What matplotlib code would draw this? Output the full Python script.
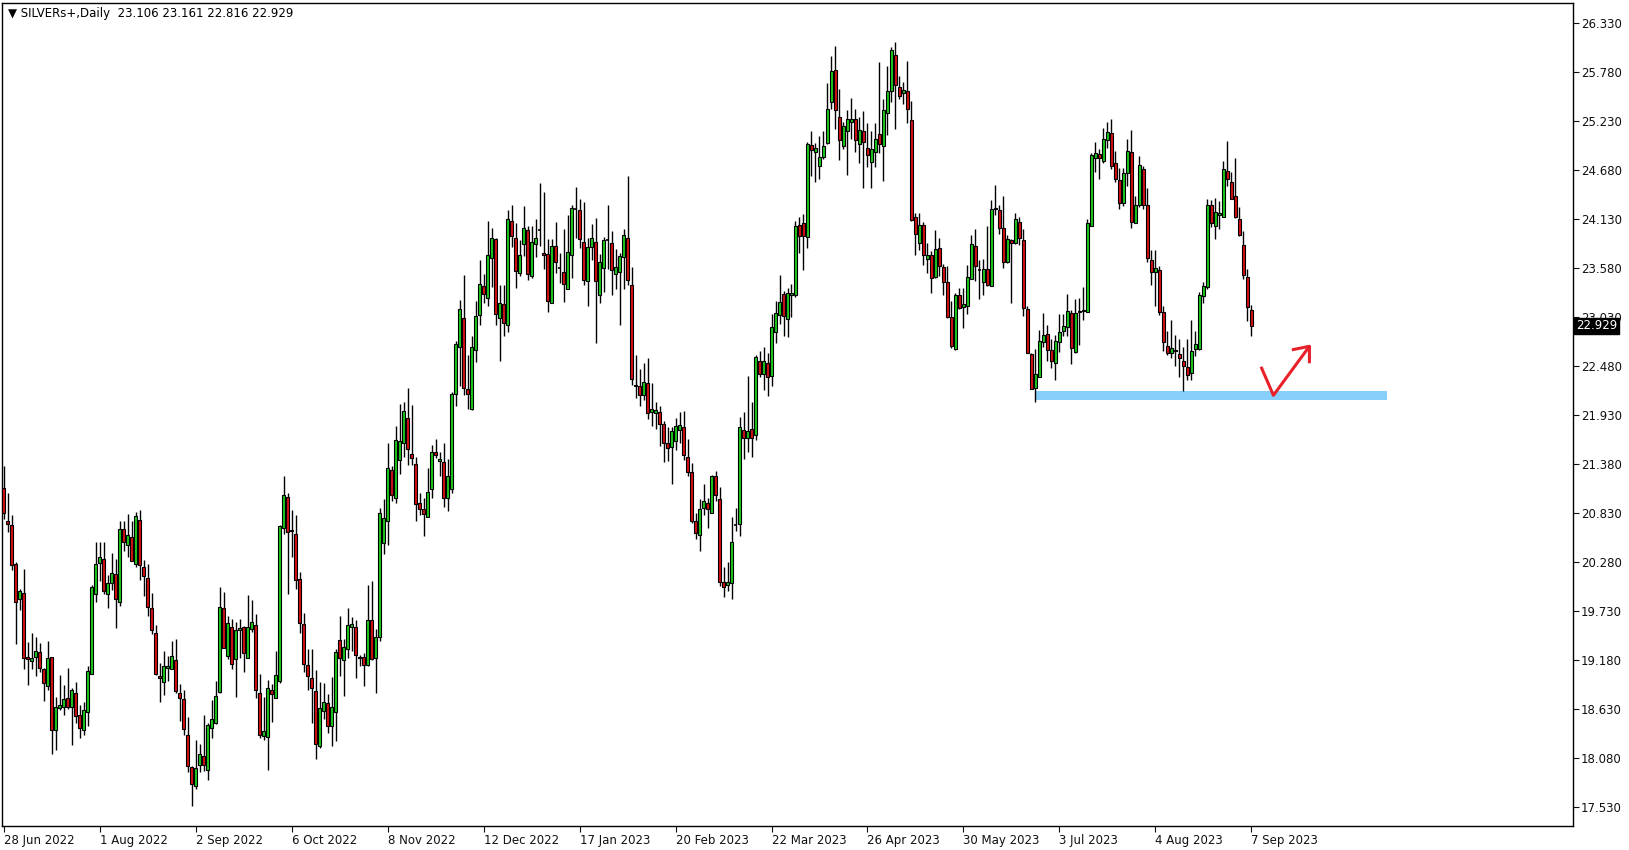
import numpy as np
import matplotlib
matplotlib.use("Agg")
import matplotlib.pyplot as plt
import matplotlib.transforms as mtransforms

# daily bars, SILVERs+
opens = [
    21.11, 20.74, 20.70, 20.26, 19.87, 19.93, 19.21, 19.17, 19.22, 19.27,
    19.08, 18.89, 19.21, 18.40, 18.64, 18.66, 18.75, 18.65, 18.81, 18.57,
    18.40, 18.60, 19.03, 19.92, 20.27, 20.31, 19.92, 20.05, 20.15, 19.83,
    20.65, 20.47, 20.56, 20.26, 20.75, 20.23, 20.10, 19.77, 19.48, 19.00,
    18.93, 19.09, 19.08, 19.18, 18.81, 18.74, 18.34, 17.98, 17.77, 18.00,
    18.10, 17.95, 18.42, 18.47, 18.82, 19.76, 19.23, 19.55, 19.19, 19.52,
    19.55, 19.20, 19.53, 19.57, 18.81, 18.33, 18.32, 18.85, 18.76, 18.95,
    20.66, 21.01, 20.64, 20.59, 20.09, 19.59, 19.13, 18.98, 18.83, 18.22,
    18.61, 18.70, 18.44, 18.60, 19.41, 19.18, 19.30, 19.55, 19.55, 19.21,
    19.21, 19.13, 19.63, 19.20, 19.44, 20.49, 20.74, 21.31, 21.00, 21.42,
    21.62, 21.90, 21.49, 21.38, 20.94, 20.88, 20.78, 21.10, 21.52, 21.41,
    21.40, 21.00, 21.10, 22.17, 22.69, 23.02, 22.22, 22.00, 22.66, 23.05,
    23.38, 23.24, 23.69, 23.90, 23.02, 23.17, 22.94, 24.11, 23.92, 23.52,
    23.85, 24.00, 23.49, 23.85, 24.00, 23.75, 23.73, 23.19, 23.83, 23.58,
    23.53, 23.34, 23.72, 24.24, 24.23, 23.87, 23.43, 23.81, 23.87, 23.28,
    23.58, 23.89, 23.86, 23.51, 23.53, 23.70, 23.92, 23.39, 22.27, 22.25,
    22.15, 22.29, 21.96, 21.95, 21.96, 21.83, 21.61, 21.57, 21.64, 21.76,
    21.80, 21.46, 21.29, 20.74, 20.58, 20.89, 20.94, 20.83, 21.25, 20.99,
    20.06, 20.02, 20.04, 20.70, 20.71, 21.76, 21.67, 21.77, 21.71, 22.53,
    22.39, 22.51, 22.37, 22.86, 23.05, 23.29, 23.01, 23.27, 23.28, 24.06,
    24.08, 23.93, 24.96, 24.88, 24.72, 24.82, 24.98, 25.44, 25.80, 25.27,
    24.95, 25.12, 25.22, 25.25, 24.97, 25.12, 24.92, 24.77, 24.88, 25.08,
    24.95, 25.32, 25.56, 25.97, 25.61, 25.54, 25.56, 25.24, 24.15, 23.86,
    24.06, 23.68, 23.72, 23.48, 23.80, 23.59, 23.42, 23.03, 22.67, 23.28,
    23.14, 23.15, 23.46, 23.83, 23.55, 23.42, 23.57, 23.38, 24.25, 24.23,
    24.03, 23.64, 23.89, 23.86, 24.09, 23.89, 23.12, 22.61, 22.23, 22.36,
    22.75, 22.84, 22.66, 22.51, 22.75, 22.87, 22.92, 23.07, 22.64, 23.08,
    23.095, 23.09, 24.05, 24.81, 24.86, 24.78, 25.01, 25.09, 24.75, 24.57,
    24.31, 24.64, 24.88, 24.08, 24.28, 24.69, 24.28, 23.67, 23.53, 23.55,
    23.09, 22.70, 22.62, 22.66, 22.61, 22.54, 22.47, 22.40, 22.67, 22.67,
    23.26, 23.36, 24.28, 24.05, 24.17, 24.15, 24.67, 24.54, 24.38, 24.13,
    23.84, 23.48, 23.106,
]
highs = [
    21.36, 21.06, 20.81, 20.28, 19.98, 20.20, 19.38, 19.48, 19.44, 19.37,
    19.09, 19.40, 19.21, 18.77, 19.01, 18.90, 19.09, 18.87, 18.94, 18.68,
    18.71, 19.12, 20.02, 20.50, 20.50, 20.50, 20.14, 20.38, 20.31, 20.74,
    20.74, 20.82, 20.74, 20.84, 20.86, 20.30, 20.26, 19.93, 19.57, 19.15,
    19.28, 19.23, 19.39, 19.42, 18.91, 18.84, 18.54, 17.99, 18.28, 18.24,
    18.57, 18.48, 18.73, 18.95, 20.00, 19.94, 19.68, 19.64, 19.61, 19.64,
    19.56, 19.91, 19.85, 19.70, 19.02, 18.77, 18.96, 18.91, 19.28, 20.70,
    21.25, 21.06, 20.86, 20.81, 20.17, 19.71, 19.30, 19.30, 19.07, 18.93,
    18.92, 18.80, 18.99, 19.31, 19.67, 19.42, 19.77, 19.66, 19.63, 19.24,
    19.26, 20.02, 20.07, 19.53, 20.89, 20.99, 21.61, 21.36, 21.81, 22.05,
    22.08, 22.23, 22.04, 21.46, 21.06, 21.00, 21.33, 21.59, 21.66, 21.51,
    21.61, 21.44, 22.19, 22.76, 23.22, 23.50, 22.60, 22.81, 23.21, 23.67,
    23.51, 24.11, 24.03, 23.92, 23.39, 23.39, 24.23, 24.29, 24.08, 23.89,
    24.27, 24.05, 24.05, 24.13, 24.53, 24.43, 23.90, 23.90, 24.09, 23.75,
    24.02, 24.17, 24.28, 24.49, 24.35, 24.32, 23.92, 24.07, 24.14, 23.73,
    23.93, 24.28, 23.99, 23.79, 23.75, 24.02, 24.61, 23.59, 22.60, 22.44,
    22.51, 22.57, 22.29, 22.07, 22.03, 21.86, 21.79, 21.80, 21.90, 21.96,
    21.97, 21.66, 21.39, 20.83, 20.99, 21.16, 21.00, 21.26, 21.30, 21.12,
    20.22, 20.28, 20.78, 20.89, 21.91, 21.96, 22.37, 22.08, 22.60, 22.65,
    22.69, 22.63, 23.06, 23.21, 23.50, 23.32, 23.35, 23.40, 24.10, 24.15,
    24.18, 24.99, 25.12, 24.98, 25.06, 25.12, 25.65, 25.96, 26.07, 25.59,
    25.22, 25.35, 25.48, 25.36, 25.27, 25.34, 25.20, 25.11, 25.20, 25.89,
    25.47, 25.84, 26.06, 26.11, 25.73, 25.66, 25.90, 25.45, 24.20, 24.20,
    24.09, 23.86, 23.77, 24.00, 23.91, 23.62, 23.60, 23.21, 23.30, 23.35,
    23.35, 23.61, 23.95, 24.01, 23.67, 23.68, 24.05, 24.34, 24.51, 24.29,
    24.38, 23.95, 23.90, 24.19, 24.15, 24.01, 23.15, 22.63, 22.67, 22.88,
    23.07, 22.94, 22.78, 22.83, 23.06, 23.06, 23.29, 23.11, 23.23, 23.24,
    23.37, 24.13, 24.87, 24.99, 24.91, 25.15, 25.21, 25.25, 24.89, 24.70,
    24.70, 25.02, 25.13, 24.39, 24.83, 24.72, 24.47, 23.78, 23.78, 23.60,
    23.15, 22.87, 22.99, 22.83, 22.78, 22.69, 22.78, 23.00, 22.87, 23.31,
    23.42, 24.35, 24.34, 24.36, 24.33, 24.78, 25.00, 24.66, 24.81, 24.26,
    23.99, 23.57, 23.161,
]
lows = [
    20.76, 20.62, 20.19, 19.36, 19.74, 19.08, 18.90, 19.08, 19.00, 19.05,
    18.72, 18.84, 18.13, 18.17, 18.62, 18.56, 18.63, 18.23, 18.48, 18.31,
    18.34, 18.44, 19.02, 19.83, 20.07, 19.92, 19.76, 19.97, 19.54, 19.79,
    20.40, 20.34, 20.29, 20.22, 20.08, 19.90, 19.68, 19.47, 19.01, 18.71,
    18.79, 18.95, 19.08, 18.81, 18.50, 18.34, 17.93, 17.54, 17.73, 17.93,
    17.94, 17.84, 18.31, 18.46, 18.81, 19.32, 19.19, 19.08, 18.77, 19.20,
    19.05, 19.20, 19.50, 18.76, 18.31, 18.29, 17.95, 18.49, 18.76, 18.92,
    20.60, 19.92, 20.34, 19.98, 19.49, 19.05, 18.84, 18.47, 18.07, 18.20,
    18.52, 18.36, 18.22, 18.27, 19.00, 18.78, 19.20, 19.28, 18.98, 19.12,
    18.89, 19.12, 19.18, 18.81, 19.39, 20.37, 20.47, 20.97, 20.94, 21.27,
    21.46, 21.37, 21.37, 20.74, 20.81, 20.57, 20.78, 21.00, 21.45, 21.25,
    20.90, 20.85, 21.05, 22.03, 22.25, 22.15, 22.00, 21.98, 22.52, 22.94,
    23.19, 23.15, 23.37, 22.94, 22.53, 22.81, 22.86, 23.81, 23.35, 23.49,
    23.71, 23.44, 23.47, 23.70, 23.82, 23.57, 23.09, 23.19, 23.52, 23.41,
    23.20, 23.34, 23.47, 23.92, 23.80, 23.39, 23.15, 23.67, 22.74, 23.19,
    23.31, 23.57, 23.27, 23.34, 22.94, 23.34, 23.39, 22.27, 22.12, 22.03,
    22.10, 21.88, 21.81, 21.77, 21.58, 21.40, 21.41, 21.16, 21.54, 21.62,
    21.43, 21.24, 20.72, 20.54, 20.40, 20.81, 20.66, 20.83, 20.96, 20.01,
    19.89, 19.95, 19.87, 20.63, 20.57, 21.44, 21.52, 21.46, 21.65, 22.36,
    22.21, 22.14, 22.25, 22.74, 22.95, 22.82, 22.80, 23.03, 23.25, 23.75,
    23.56, 23.80, 24.61, 24.54, 24.58, 24.80, 24.97, 25.36, 25.14, 24.79,
    24.91, 24.62, 25.03, 24.88, 24.76, 24.47, 24.71, 24.48, 24.71, 24.87,
    24.55, 25.07, 25.44, 25.14, 25.47, 25.42, 25.20, 24.11, 23.72, 23.78,
    23.61, 23.52, 23.30, 23.47, 23.49, 23.27, 23.02, 22.68, 22.66, 23.12,
    22.90, 23.06, 23.46, 23.43, 23.23, 23.28, 23.38, 23.38, 24.17, 23.96,
    23.58, 23.63, 23.19, 23.85, 23.84, 23.04, 22.62, 22.22, 22.08, 22.35,
    22.69, 22.53, 22.46, 22.32, 22.64, 22.81, 22.81, 22.50, 22.63, 22.72,
    22.99, 23.08, 24.05, 24.65, 24.58, 24.75, 24.92, 24.69, 24.54, 24.24,
    24.27, 24.50, 24.03, 24.08, 24.26, 24.24, 23.64, 23.39, 23.15, 23.05,
    22.65, 22.60, 22.57, 22.48, 22.35, 22.20, 22.32, 22.32, 22.59, 22.66,
    23.19, 23.34, 24.04, 23.90, 24.02, 24.15, 24.50, 24.35, 24.14, 23.94,
    23.45, 22.98, 22.816,
]
closes = [
    20.83, 20.71, 20.25, 19.83, 19.95, 19.20, 19.19, 19.20, 19.28, 19.09,
    18.92, 19.20, 18.40, 18.65, 18.68, 18.74, 18.65, 18.84, 18.55, 18.42,
    18.62, 19.06, 20.00, 20.26, 20.34, 19.95, 20.05, 20.16, 19.87, 20.65,
    20.50, 20.58, 20.29, 20.80, 20.25, 20.12, 19.78, 19.52, 19.03, 18.98,
    19.11, 19.12, 19.23, 18.83, 18.76, 18.41, 17.99, 17.79, 17.97, 18.13,
    18.00, 18.45, 18.52, 18.78, 19.78, 19.32, 19.60, 19.14, 19.52, 19.54,
    19.26, 19.55, 19.61, 18.84, 18.34, 18.38, 18.87, 18.80, 19.01, 20.69,
    21.03, 20.62, 20.63, 20.08, 19.60, 19.14, 19.00, 18.87, 18.24, 18.64,
    18.71, 18.44, 18.65, 19.27, 19.20, 19.33, 19.57, 19.59, 19.24, 19.20,
    19.13, 19.63, 19.19, 19.44, 20.83, 20.77, 21.33, 21.03, 21.65, 21.64,
    21.97, 21.55, 21.45, 20.93, 20.88, 20.82, 21.07, 21.52, 21.48, 21.44,
    21.00, 21.25, 22.17, 22.73, 23.12, 22.23, 22.17, 22.69, 23.04, 23.40,
    23.29, 23.72, 23.92, 23.06, 23.19, 22.96, 24.13, 23.94, 23.54, 23.72,
    24.03, 23.51, 23.87, 23.92, 24.00, 23.72, 23.21, 23.83, 23.64, 23.58,
    23.40, 23.76, 24.25, 24.24, 23.90, 23.44, 23.81, 23.92, 23.43, 23.65,
    23.89, 23.89, 23.55, 23.59, 23.71, 23.95, 23.44, 22.33, 22.25, 22.15,
    22.30, 21.95, 22.00, 21.98, 21.83, 21.61, 21.56, 21.75, 21.81, 21.82,
    21.48, 21.29, 20.74, 20.61, 20.88, 20.97, 20.88, 21.24, 21.03, 20.06,
    20.00, 20.06, 20.51, 20.70, 21.79, 21.67, 21.75, 21.67, 22.58, 22.39,
    22.53, 22.36, 22.92, 23.07, 23.20, 23.04, 23.30, 23.30, 24.05, 23.94,
    23.94, 24.97, 24.90, 24.92, 24.82, 24.95, 25.36, 25.79, 25.35, 25.01,
    25.17, 25.25, 25.25, 25.01, 25.13, 24.99, 24.85, 24.91, 25.02, 24.97,
    25.35, 25.56, 26.02, 25.63, 25.51, 25.57, 25.36, 24.12, 23.96, 24.06,
    23.72, 23.72, 23.47, 23.79, 23.60, 23.42, 23.03, 22.70, 23.27, 23.13,
    23.17, 23.48, 23.85, 23.60, 23.55, 23.57, 23.39, 24.24, 24.24, 24.03,
    23.64, 23.90, 23.86, 24.13, 23.92, 23.13, 22.63, 22.22, 22.39, 22.76,
    22.83, 22.66, 22.54, 22.76, 22.86, 22.93, 23.10, 22.68, 23.07, 23.10,
    23.105, 24.08, 24.85, 24.87, 24.81, 25.03, 25.10, 24.72, 24.58, 24.31,
    24.64, 24.89, 24.09, 24.29, 24.73, 24.28, 23.69, 23.53, 23.58, 23.09,
    22.75, 22.63, 22.68, 22.65, 22.57, 22.48, 22.38, 22.65, 22.73, 23.28,
    23.38, 24.29, 24.08, 24.21, 24.20, 24.69, 24.58, 24.35, 24.15, 23.95,
    23.50, 23.14, 22.929,
]

date_labels = ["28 Jun 2022", "1 Aug 2022", "2 Sep 2022", "6 Oct 2022",
               "8 Nov 2022", "12 Dec 2022", "17 Jan 2023", "20 Feb 2023",
               "22 Mar 2023", "26 Apr 2023", "30 May 2023", "3 Jul 2023",
               "4 Aug 2023", "7 Sep 2023"]
bars_per_label = 24
price_ticks = [17.53 + 0.55 * k for k in range(17)]

# support zone and hand-drawn arrow
zone_x = [258, 346]
zone_lo, zone_hi = 22.096, 22.197
arrow_x = [314.4, 317.5, 326.5]
arrow_y = [22.47, 22.15, 22.70]
head_x = [322.1, 326.5, 326.5]
head_y = [22.66, 22.70, 22.51]

W, H = 1629, 850
fig = plt.figure(figsize=(W / 100, H / 100), dpi=100)
ax = fig.add_axes([2 / W, 24 / H, 1571 / W, 823 / H])

n = min(len(opens), len(highs), len(lows), len(closes))
x = np.arange(n)
o = np.array(opens[:n])
h = np.array(highs[:n])
l = np.array(lows[:n])
c = np.array(closes[:n])

ax.vlines(x, l, h, color="black", lw=1.0, zorder=2)
body_lo = np.minimum(o, c)
body_h = np.abs(c - o)
up = c > o
flat = body_h < 0.004
col = np.where(up, "#1ccb1c", "#d40f0f")
m = ~flat
ax.bar(x[m], body_h[m], bottom=body_lo[m], width=0.6, color=col[m],
       edgecolor="black", linewidth=0.8, zorder=3)
ax.hlines(o[flat], x[flat] - 0.35, x[flat] + 0.35, color="black", lw=1.2, zorder=3)

ax.fill_between(zone_x, zone_lo, zone_hi, color="#87cefa", lw=0, zorder=1)
ax.plot(arrow_x, arrow_y, color="#e8202a", lw=2.2, solid_capstyle="butt", zorder=4)
ax.plot(head_x, head_y, color="#e8202a", lw=2.2, solid_capstyle="butt", zorder=4)

ax.set_xlim(-0.4, 392.4)
ax.set_ylim(17.32, 26.55)

ax.yaxis.tick_right()
ax.set_yticks(price_ticks)
ax.set_yticklabels([f"{v:.3f}" for v in price_ticks])
ax.tick_params(axis="y", direction="out", length=4, width=0.8, pad=1.5,
               labelsize=8.5, colors="#111111")

ax.set_xticks(np.arange(len(date_labels)) * bars_per_label)
ax.set_xticklabels(date_labels)
shift = mtransforms.ScaledTranslation(-2 / 100, -1 / 100, fig.dpi_scale_trans)
for lbl in ax.get_xticklabels():
    lbl.set_ha("left")
    lbl.set_transform(lbl.get_transform() + shift)
ax.tick_params(axis="x", direction="out", length=4, width=0.8, pad=2,
               labelsize=8.5, colors="#111111")

for s in ax.spines.values():
    s.set_color("black")
    s.set_linewidth(1.0)

ax.annotate(f"{closes[-1]:.3f}", xy=(1, closes[-1]), xycoords=("axes fraction", "data"),
            xytext=(2, 0), textcoords="offset points", ha="left", va="center",
            color="white", fontsize=8.5,
            bbox=dict(boxstyle="square,pad=0.15", fc="black", ec="black"))

fig.text(8 / W, 1 - 13 / H,
         "\u25bc SILVERs+,Daily  %.3f %.3f %.3f %.3f" % (opens[-1], highs[-1], lows[-1], closes[-1]),
         fontsize=8.5, va="center", ha="left", color="black")

fig.savefig("out.png", dpi=100)
